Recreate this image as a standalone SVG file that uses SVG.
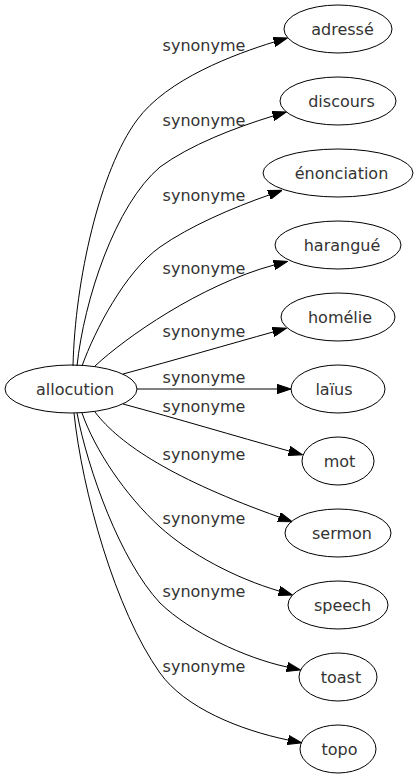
<svg xmlns="http://www.w3.org/2000/svg" width="419" height="779" viewBox="0 0 419 779">
<defs>
<style>
.node ellipse{fill:none;stroke:#000;stroke-width:1}
.node text{font-family:"DejaVu Sans",sans-serif;font-size:16px;fill:#333;text-anchor:middle}
.edges path{fill:none;stroke:#000;stroke-width:1;marker-end:url(#arr)}
.edges text{font-family:"DejaVu Sans",sans-serif;font-size:16px;fill:#333;text-anchor:middle}
</style>
<marker id="arr" viewBox="0 -5 14 10" refX="0" refY="0" markerWidth="14" markerHeight="10" markerUnits="userSpaceOnUse" orient="auto">
<path d="M0,-4.7 L14,0 L0,4.7 Z" fill="#000" stroke="#000" stroke-width="1"/>
</marker>
</defs>
<rect width="419" height="779" fill="#fff"/>
<g class="edges">
<path d="M73,366 C75,280 100,170 137,120 C167,79 235,54 274,42"/>
<text x="204" y="51">synonyme</text>
<path d="M77,366 C84,300 115,205 160,167 C190,145 234,128 273,116"/>
<text x="204" y="126">synonyme</text>
<path d="M82,366 C95,330 125,272 160,247 C190,226 232,208 269,195"/>
<text x="204" y="201">synonyme</text>
<path d="M95,366 C125,338 200,285 274,265"/>
<text x="204" y="274">synonyme</text>
<path d="M123,374 C175,360 230,344 273,332"/>
<text x="204" y="337">synonyme</text>
<path d="M137,389 L277,389"/>
<text x="204" y="383">synonyme</text>
<path d="M123,404 C175,418 235,436 289,451"/>
<text x="204" y="412">synonyme</text>
<path d="M95,412 C120,445 175,480 279,517"/>
<text x="204" y="460">synonyme</text>
<path d="M82,413 C95,450 125,495 160,527 C190,554 235,578 279,591"/>
<text x="204" y="524">synonyme</text>
<path d="M77,413 C88,470 120,560 160,603 C190,632 245,658 287,667"/>
<text x="204" y="597">synonyme</text>
<path d="M74,413 C82,490 115,610 160,673 C185,708 240,730 288,740"/>
<text x="204" y="672">synonyme</text>
</g>
<g id="node-allocution" class="node"><ellipse cx="71" cy="389" rx="66" ry="24"/><text x="75" y="394.5">allocution</text></g>
<g id="node-adresse" class="node"><ellipse cx="338" cy="29" rx="54" ry="24"/><text x="342.5" y="34.5">adressé</text></g>
<g id="node-discours" class="node"><ellipse cx="338" cy="101" rx="58" ry="24"/><text x="341.5" y="106.5">discours</text></g>
<g id="node-enonciation" class="node"><ellipse cx="338" cy="173" rx="75" ry="24"/><text x="341.5" y="178.5">énonciation</text></g>
<g id="node-harangue" class="node"><ellipse cx="338" cy="245" rx="63" ry="24"/><text x="342" y="250.5">harangué</text></g>
<g id="node-homelie" class="node"><ellipse cx="338" cy="317" rx="57" ry="24"/><text x="340" y="322.5">homélie</text></g>
<g id="node-laius" class="node"><ellipse cx="338" cy="389" rx="47" ry="24"/><text x="334" y="394.5">laïus</text></g>
<g id="node-mot" class="node"><ellipse cx="338" cy="461" rx="36" ry="24"/><text x="339.5" y="466.5">mot</text></g>
<g id="node-sermon" class="node"><ellipse cx="338" cy="533" rx="53" ry="24"/><text x="342" y="538.5">sermon</text></g>
<g id="node-speech" class="node"><ellipse cx="338" cy="605" rx="50" ry="24"/><text x="342.5" y="610.5">speech</text></g>
<g id="node-toast" class="node"><ellipse cx="338" cy="677" rx="39" ry="24"/><text x="341" y="682.5">toast</text></g>
<g id="node-topo" class="node"><ellipse cx="338" cy="749" rx="38" ry="24"/><text x="339.5" y="754.5">topo</text></g>
</svg>
